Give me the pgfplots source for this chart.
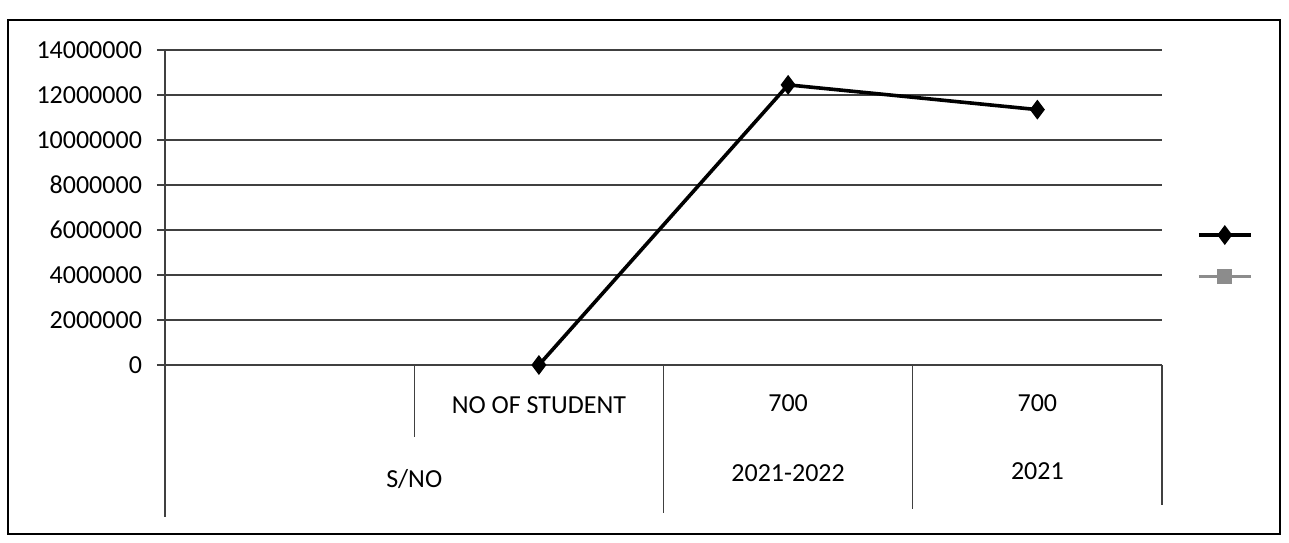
\documentclass[border=0pt]{standalone}
\usepackage{pgfplots}
\pgfplotsset{compat=1.18}
\usepackage{fontspec}
\setmainfont{Carlito}

\begin{document}
\fontsize{13}{15}\selectfont
\begin{tikzpicture}
\useasboundingbox (0,0) rectangle (644.5pt,271pt);
\draw[line width=1pt] (4pt,4pt) rectangle (640pt,261pt);
\begin{axis}[
    at={(82.5pt,88.5pt)}, anchor=south west,
    scale only axis,
    width=498.5pt,
    height=157.5pt,
    xmin=-0.5, xmax=3.5,
    ymin=0, ymax=14000000,
    axis lines*=left,
    xtick=\empty,
    ytick={0,2000000,4000000,6000000,8000000,10000000,12000000,14000000},
    scaled y ticks=false,
    yticklabel style={/pgf/number format/fixed, /pgf/number format/1000 sep={}, xshift=-3pt},
    /pgf/number format/assume math mode=true,
    ymajorgrids,
    grid style={black!75, line width=0.6pt},
    tick align=outside,
    major tick length=4pt,
    tick style={black!75, line width=0.6pt},
    axis line style={black!75, line width=0.6pt},
    clip=false,
    legend style={at={(1.067,0.349)}, anchor=center, draw=none, fill=none, row sep=14pt},
    legend image code/.code={\draw[mark repeat=2,mark phase=2,#1] plot coordinates {(0pt,0pt) (13pt,0pt) (26pt,0pt)};},
    ]

    % multi-level category table under the axis
    \draw[black!75, line width=0.6pt] (axis cs:-0.5,0) -- ([yshift=-76pt]axis cs:-0.5,0);
    \draw[black!75, line width=0.6pt] (axis cs:0.5,0) -- ([yshift=-36pt]axis cs:0.5,0);
    \draw[black!75, line width=0.6pt] (axis cs:1.5,0) -- ([yshift=-74pt]axis cs:1.5,0);
    \draw[black!75, line width=0.6pt] (axis cs:2.5,0) -- ([yshift=-72pt]axis cs:2.5,0);
    \draw[black!75, line width=0.6pt] (axis cs:3.5,0) -- ([yshift=-70pt]axis cs:3.5,0);

    \node at ([yshift=-20pt]axis cs:1,0) {NO OF STUDENT};
    \node at ([yshift=-19pt]axis cs:2,0) {700};
    \node at ([yshift=-19pt]axis cs:3,0) {700};
    \node at ([yshift=-57pt]axis cs:0.5,0) {S/NO};
    \node at ([yshift=-54pt]axis cs:2,0) {2021-2022};
    \node at ([yshift=-53pt]axis cs:3,0) {2021};

    \addplot[black, line width=1.8pt, mark=diamond*, mark size=3.5pt, mark options={solid}]
        coordinates {(1,0) (2,12450000) (3,11350000)};
    \addlegendentry{}
    \addlegendimage{black!45, line width=1.5pt, mark=square*, mark size=3pt, mark options={solid}}
    \addlegendentry{}
\end{axis}
\end{tikzpicture}
\end{document}
